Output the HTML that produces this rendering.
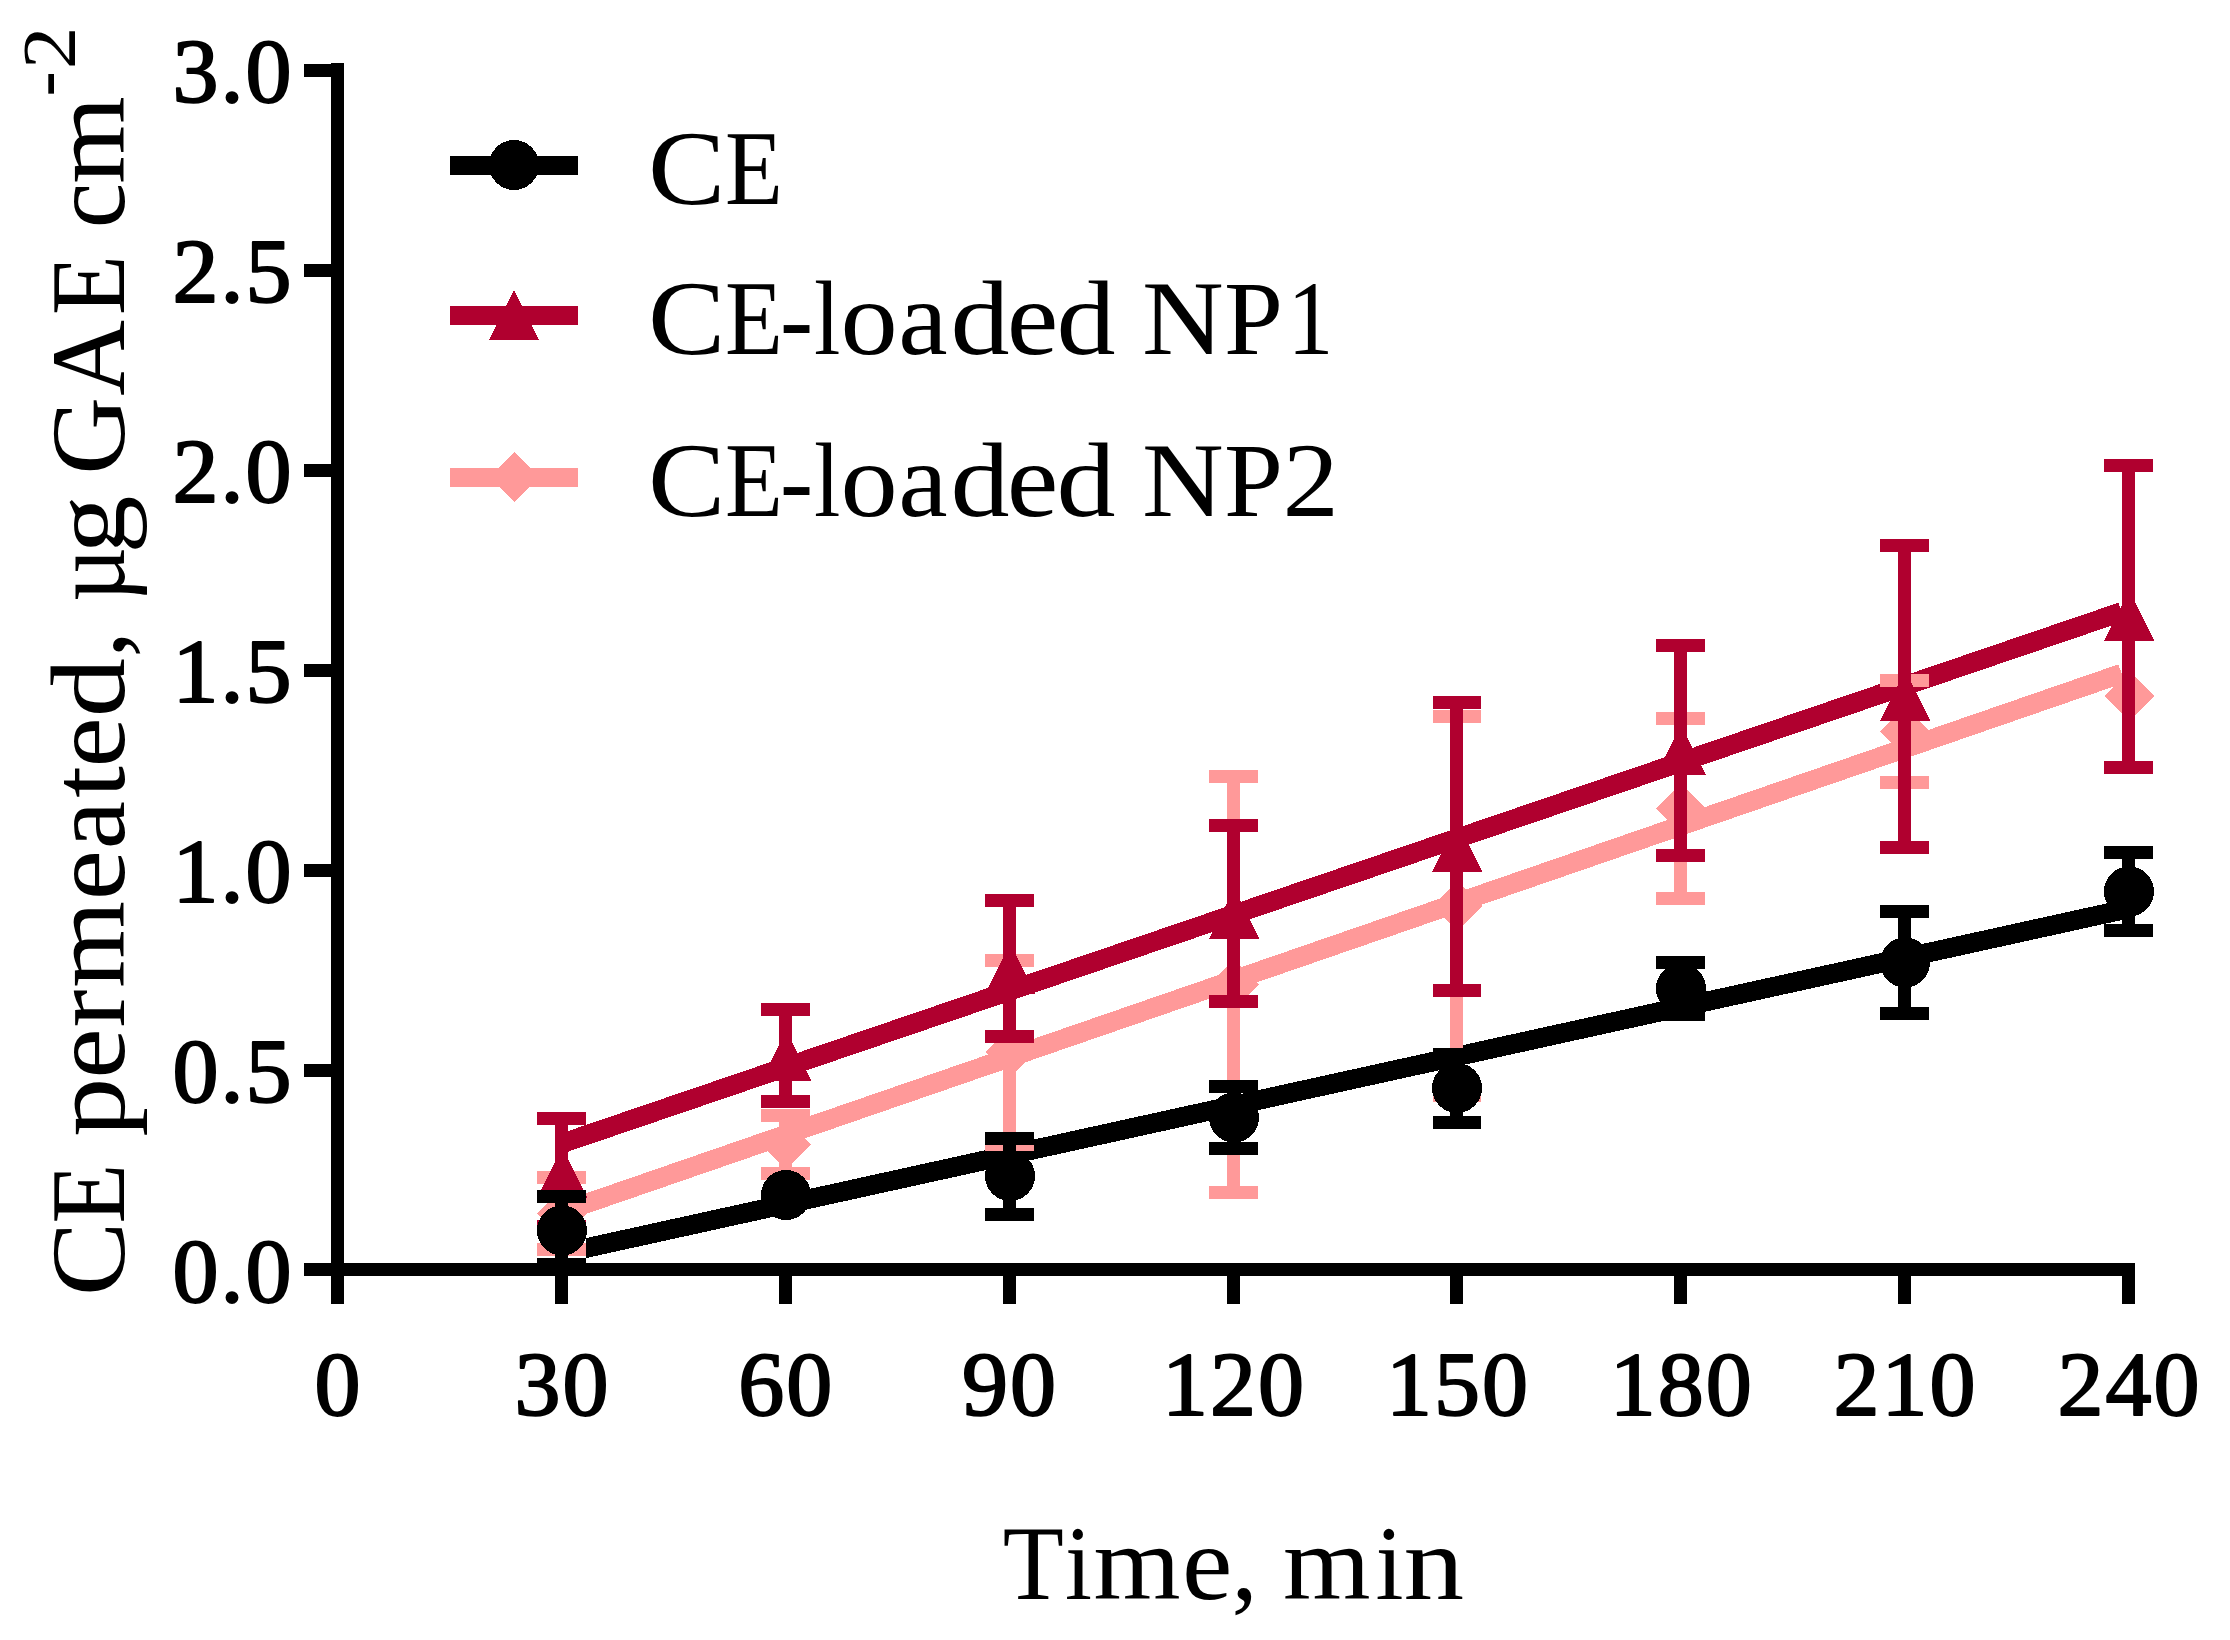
<!DOCTYPE html>
<html lang="en"><head><meta charset="utf-8"><title>CE permeated vs time</title>
<style>html,body{margin:0;padding:0;background:#fff}body{width:2230px;height:1640px;overflow:hidden}svg{display:block}text{font-family:"Liberation Serif",serif;fill:#000}</style></head><body>
<svg width="2230" height="1640" viewBox="0 0 2230 1640" shape-rendering="crispEdges">
<rect width="2230" height="1640" fill="#fff"/>
<g id="fits">
<polygon points="586,1238.1 2119.5,900.58 2123.7,919.62 586,1258.07" fill="#000000"/>
<line x1="561.5" y1="1143.6" x2="2121.6" y2="611.92" stroke="#B0002F" stroke-width="19.5"/>
<line x1="561.5" y1="1212.1" x2="2121.6" y2="673.55" stroke="#FF9999" stroke-width="19.5"/>
</g>
<g id="np2" fill="#FF9999">
<rect x="555" y="1177.5" width="13" height="72"/>
<rect x="537" y="1171" width="49" height="13"/>
<rect x="537" y="1243" width="49" height="13"/>
<rect x="779" y="1115.5" width="13" height="58"/>
<rect x="761" y="1109" width="49" height="13"/>
<rect x="761" y="1167" width="49" height="13"/>
<rect x="1003" y="960" width="13" height="184.8"/>
<rect x="985" y="953.5" width="49" height="13"/>
<rect x="985" y="1138.3" width="49" height="13"/>
<rect x="1227" y="776.5" width="13" height="416"/>
<rect x="1209" y="770" width="49" height="13"/>
<rect x="1209" y="1186" width="49" height="13"/>
<rect x="1450" y="716.5" width="13" height="379"/>
<rect x="1433" y="710" width="48" height="13"/>
<rect x="1433" y="1089" width="48" height="13"/>
<rect x="1674" y="718.5" width="13" height="180"/>
<rect x="1656" y="712" width="49" height="13"/>
<rect x="1656" y="892" width="49" height="13"/>
<rect x="1898" y="680.5" width="13" height="102"/>
<rect x="1880" y="674" width="49" height="13"/>
<rect x="1880" y="776" width="49" height="13"/>
<polygon points="562,1188.5 587,1213.5 562,1238.5 537,1213.5" fill="#FF9999"/>
<polygon points="786,1119.5 811,1144.5 786,1169.5 761,1144.5" fill="#FF9999"/>
<polygon points="1010,1027 1035,1052 1010,1077 985,1052" fill="#FF9999"/>
<polygon points="1234,959.5 1259,984.5 1234,1009.5 1209,984.5" fill="#FF9999"/>
<polygon points="1457,881 1482,906 1457,931 1432,906" fill="#FF9999"/>
<polygon points="1681,783.5 1706,808.5 1681,833.5 1656,808.5" fill="#FF9999"/>
<polygon points="1905,706.5 1930,731.5 1905,756.5 1880,731.5" fill="#FF9999"/>
<polygon points="2129,671 2154,696 2129,721 2104,696" fill="#FF9999"/>
</g>
<g id="np1" fill="#B0002F">
<rect x="555" y="1118.5" width="13" height="108"/>
<rect x="537" y="1112" width="49" height="13"/>
<rect x="537" y="1220" width="49" height="13"/>
<rect x="779" y="1009.5" width="13" height="92"/>
<rect x="761" y="1003" width="49" height="13"/>
<rect x="761" y="1095" width="49" height="13"/>
<rect x="1003" y="900.5" width="13" height="136"/>
<rect x="985" y="894" width="49" height="13"/>
<rect x="985" y="1030" width="49" height="13"/>
<rect x="1227" y="825.5" width="13" height="176"/>
<rect x="1209" y="819" width="49" height="13"/>
<rect x="1209" y="995" width="49" height="13"/>
<rect x="1450" y="702.5" width="13" height="288"/>
<rect x="1433" y="696" width="48" height="13"/>
<rect x="1433" y="984" width="48" height="13"/>
<rect x="1674" y="645.5" width="13" height="210"/>
<rect x="1656" y="639" width="49" height="13"/>
<rect x="1656" y="849" width="49" height="13"/>
<rect x="1898" y="545.7" width="13" height="301.8"/>
<rect x="1880" y="539.2" width="49" height="13"/>
<rect x="1880" y="841" width="49" height="13"/>
<rect x="2122" y="465.7" width="13" height="301.8"/>
<rect x="2104" y="459.2" width="49" height="13"/>
<rect x="2104" y="761" width="49" height="13"/>
<polygon points="562,1147.5 587,1197.5 537,1197.5" fill="#B0002F"/>
<polygon points="786,1030.5 811,1080.5 761,1080.5" fill="#B0002F"/>
<polygon points="1010,943.5 1035,993.5 985,993.5" fill="#B0002F"/>
<polygon points="1234,888.5 1259,938.5 1209,938.5" fill="#B0002F"/>
<polygon points="1457,821.5 1482,871.5 1432,871.5" fill="#B0002F"/>
<polygon points="1681,725 1706,775 1656,775" fill="#B0002F"/>
<polygon points="1905,670.5 1930,720.5 1880,720.5" fill="#B0002F"/>
<polygon points="2129,590.5 2154,640.5 2104,640.5" fill="#B0002F"/>
</g>
<g id="ce" fill="#000000">
<rect x="555" y="1196.5" width="13" height="68"/>
<rect x="537" y="1190" width="49" height="13"/>
<rect x="537" y="1258" width="49" height="13"/>
<rect x="1003" y="1138" width="13" height="76.5"/>
<rect x="985" y="1131.5" width="49" height="13"/>
<rect x="985" y="1208" width="49" height="13"/>
<rect x="1227" y="1086.5" width="13" height="62"/>
<rect x="1209" y="1080" width="49" height="13"/>
<rect x="1209" y="1142" width="49" height="13"/>
<rect x="1450" y="1054.5" width="13" height="68"/>
<rect x="1433" y="1048" width="48" height="13"/>
<rect x="1433" y="1116" width="48" height="13"/>
<rect x="1674" y="962.5" width="13" height="52"/>
<rect x="1656" y="956" width="49" height="13"/>
<rect x="1656" y="1008" width="49" height="13"/>
<rect x="1898" y="911.5" width="13" height="102"/>
<rect x="1880" y="905" width="49" height="13"/>
<rect x="1880" y="1007" width="49" height="13"/>
<rect x="2122" y="852.5" width="13" height="78"/>
<rect x="2104" y="846" width="49" height="13"/>
<rect x="2104" y="924" width="49" height="13"/>
<circle cx="562" cy="1230.5" r="25" fill="#000000"/>
<circle cx="786" cy="1195" r="25" fill="#000000"/>
<circle cx="1010" cy="1176" r="25" fill="#000000"/>
<circle cx="1234" cy="1117.5" r="25" fill="#000000"/>
<circle cx="1457" cy="1088" r="25" fill="#000000"/>
<circle cx="1681" cy="988.5" r="25" fill="#000000"/>
<circle cx="1905" cy="962.5" r="25" fill="#000000"/>
<circle cx="2129" cy="891.5" r="25" fill="#000000"/>
</g>
<g id="axes" fill="#000">
<rect x="331" y="63" width="13" height="1241"/>
<rect x="304" y="1263" width="1831" height="13"/>
<rect x="304" y="1064" width="27" height="13"/>
<rect x="304" y="864" width="27" height="13"/>
<rect x="304" y="664" width="27" height="13"/>
<rect x="304" y="464" width="27" height="13"/>
<rect x="304" y="264" width="27" height="13"/>
<rect x="304" y="64" width="27" height="13"/>
<rect x="555" y="1276" width="13" height="28"/>
<rect x="779" y="1276" width="13" height="28"/>
<rect x="1003" y="1276" width="13" height="28"/>
<rect x="1227" y="1276" width="13" height="28"/>
<rect x="1450" y="1276" width="13" height="28"/>
<rect x="1674" y="1276" width="13" height="28"/>
<rect x="1898" y="1276" width="13" height="28"/>
<rect x="2122" y="1276" width="13" height="28"/>
</g>
<g id="ylabels" font-size="92" letter-spacing="2.0" text-anchor="end" stroke="#000" stroke-width="2.0" stroke-linejoin="round">
<text x="293.5" y="1302">0.0</text>
<text x="293.5" y="1102">0.5</text>
<text x="293.5" y="902">1.0</text>
<text x="293.5" y="702">1.5</text>
<text x="293.5" y="502">2.0</text>
<text x="293.5" y="302">2.5</text>
<text x="293.5" y="102">3.0</text>
</g>
<g id="xlabels" font-size="92" letter-spacing="2.0" text-anchor="middle" stroke="#000" stroke-width="2.0" stroke-linejoin="round">
<text x="338.5" y="1415">0</text>
<text x="562.38" y="1415">30</text>
<text x="786.25" y="1415">60</text>
<text x="1010.12" y="1415">90</text>
<text x="1234" y="1415">120</text>
<text x="1457.88" y="1415">150</text>
<text x="1681.75" y="1415">180</text>
<text x="1905.62" y="1415">210</text>
<text x="2129.5" y="1415">240</text>
</g>
<text aria-label="Time, min" transform="translate(0,1599)" font-size="105" y="0"><tspan x="1002.69" textLength="61.07" lengthAdjust="spacingAndGlyphs">T</tspan><tspan x="1064.96" textLength="26.99" lengthAdjust="spacingAndGlyphs">i</tspan><tspan x="1093.55" textLength="87.1" lengthAdjust="spacingAndGlyphs">m</tspan><tspan x="1181.97" textLength="50.37" lengthAdjust="spacingAndGlyphs">e</tspan><tspan x="1231.38" textLength="26.25" lengthAdjust="spacingAndGlyphs">,</tspan> <tspan x="1283.13" textLength="87.63" lengthAdjust="spacingAndGlyphs">m</tspan><tspan x="1375.48" textLength="28.04" lengthAdjust="spacingAndGlyphs">i</tspan><tspan x="1403.52" textLength="60.62" lengthAdjust="spacingAndGlyphs">n</tspan></text>
<text aria-label="CE permeated, µg GAE cm-2" transform="translate(124,0) rotate(-90)" font-size="105" y="0"><tspan x="-1296.06" textLength="74.2" lengthAdjust="spacingAndGlyphs">C</tspan><tspan x="-1223.52" textLength="59.8" lengthAdjust="spacingAndGlyphs">E</tspan> <tspan x="-1136.7" textLength="59.01" lengthAdjust="spacingAndGlyphs">p</tspan><tspan x="-1078.73" textLength="50.37" lengthAdjust="spacingAndGlyphs">e</tspan><tspan x="-1027.48" textLength="37.99" lengthAdjust="spacingAndGlyphs">r</tspan><tspan x="-987.75" textLength="86.89" lengthAdjust="spacingAndGlyphs">m</tspan><tspan x="-900.22" textLength="50.25" lengthAdjust="spacingAndGlyphs">e</tspan><tspan x="-849.23" textLength="48.32" lengthAdjust="spacingAndGlyphs">a</tspan><tspan x="-797.81" textLength="31.68" lengthAdjust="spacingAndGlyphs">t</tspan><tspan x="-767.41" textLength="50.13" lengthAdjust="spacingAndGlyphs">e</tspan><tspan x="-717.37" textLength="59.12" lengthAdjust="spacingAndGlyphs">d</tspan><tspan x="-657.57" textLength="26.25" lengthAdjust="spacingAndGlyphs">,</tspan> <tspan x="-602.06" textLength="54.77" lengthAdjust="spacingAndGlyphs">µ</tspan><tspan x="-553.71" textLength="58.33" lengthAdjust="spacingAndGlyphs">g</tspan> <tspan x="-474.72" textLength="77.78" lengthAdjust="spacingAndGlyphs">G</tspan><tspan x="-395.82" textLength="75.69" lengthAdjust="spacingAndGlyphs">A</tspan><tspan x="-315.12" textLength="59.8" lengthAdjust="spacingAndGlyphs">E</tspan> <tspan x="-228.2" textLength="45.45" lengthAdjust="spacingAndGlyphs">c</tspan><tspan x="-183.66" textLength="87.42" lengthAdjust="spacingAndGlyphs">m</tspan><tspan font-size="76" dy="-55" x="-96.51" textLength="25.25" lengthAdjust="spacingAndGlyphs">-</tspan><tspan font-size="76" dy="6" x="-69.25" textLength="42.66" lengthAdjust="spacingAndGlyphs">2</tspan></text>
<g id="legend">
<rect x="450" y="156" width="128" height="19" fill="#000000"/>
<circle cx="514" cy="165" r="25" fill="#000000"/>
<text aria-label="CE" transform="translate(0,204)" font-size="105" y="0"><tspan x="648.14" textLength="77.36" lengthAdjust="spacingAndGlyphs">C</tspan><tspan x="725.07" textLength="57.84" lengthAdjust="spacingAndGlyphs">E</tspan></text>
<rect x="450" y="306" width="128" height="19" fill="#B0002F"/>
<polygon points="514,290 539,340 489,340" fill="#B0002F"/>
<text aria-label="CE-loaded NP1" transform="translate(0,353.5)" font-size="105" y="0"><tspan x="648.14" textLength="77.36" lengthAdjust="spacingAndGlyphs">C</tspan><tspan x="725.07" textLength="57.84" lengthAdjust="spacingAndGlyphs">E</tspan><tspan x="780.01" textLength="33.07" lengthAdjust="spacingAndGlyphs">-</tspan><tspan x="814.1" textLength="26.41" lengthAdjust="spacingAndGlyphs">l</tspan><tspan x="840.64" textLength="57.22" lengthAdjust="spacingAndGlyphs">o</tspan><tspan x="898.29" textLength="49.33" lengthAdjust="spacingAndGlyphs">a</tspan><tspan x="950.54" textLength="59" lengthAdjust="spacingAndGlyphs">d</tspan><tspan x="1006.76" textLength="51.57" lengthAdjust="spacingAndGlyphs">e</tspan><tspan x="1056.44" textLength="59" lengthAdjust="spacingAndGlyphs">d</tspan> <tspan x="1142.04" textLength="81.76" lengthAdjust="spacingAndGlyphs">N</tspan><tspan x="1223.94" textLength="59" lengthAdjust="spacingAndGlyphs">P</tspan><tspan x="1287.44" textLength="45.87" lengthAdjust="spacingAndGlyphs">1</tspan></text>
<rect x="450" y="468" width="128" height="19" fill="#FF9999"/>
<polygon points="514,452 539,477 514,502 489,477" fill="#FF9999"/>
<text aria-label="CE-loaded NP2" transform="translate(0,515.5)" font-size="105" y="0"><tspan x="648.14" textLength="77.36" lengthAdjust="spacingAndGlyphs">C</tspan><tspan x="725.07" textLength="57.84" lengthAdjust="spacingAndGlyphs">E</tspan><tspan x="780.01" textLength="33.07" lengthAdjust="spacingAndGlyphs">-</tspan><tspan x="814.1" textLength="26.41" lengthAdjust="spacingAndGlyphs">l</tspan><tspan x="840.64" textLength="57.22" lengthAdjust="spacingAndGlyphs">o</tspan><tspan x="898.29" textLength="49.33" lengthAdjust="spacingAndGlyphs">a</tspan><tspan x="950.54" textLength="59" lengthAdjust="spacingAndGlyphs">d</tspan><tspan x="1006.76" textLength="51.57" lengthAdjust="spacingAndGlyphs">e</tspan><tspan x="1056.44" textLength="59" lengthAdjust="spacingAndGlyphs">d</tspan> <tspan x="1142.04" textLength="81.76" lengthAdjust="spacingAndGlyphs">N</tspan><tspan x="1223.94" textLength="59" lengthAdjust="spacingAndGlyphs">P</tspan><tspan x="1282.45" textLength="56.38" lengthAdjust="spacingAndGlyphs">2</tspan></text>
</g>
</svg></body></html>
